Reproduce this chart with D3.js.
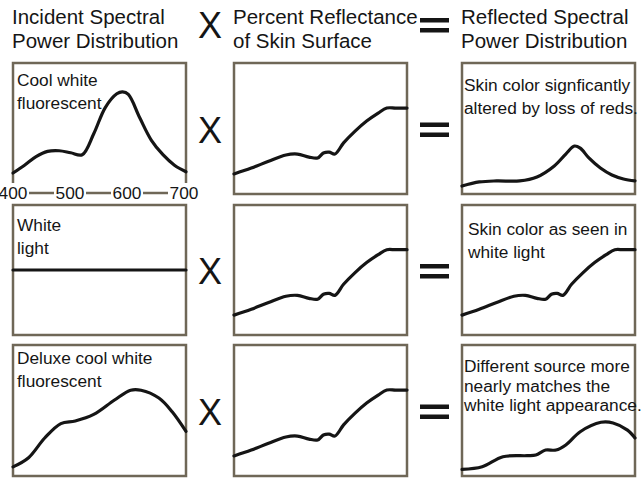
<!DOCTYPE html>
<html>
<head>
<meta charset="utf-8">
<script src="https://cdn.jsdelivr.net/npm/d3@7"></script>
<style>
body{margin:0;background:#fff;}
svg{display:block;font-family:"Liberation Sans",Arial,sans-serif;}
</style>
</head>
<body>
<svg width="641" height="486"></svg>
<script>
// column / row headers
var headers = [["Incident Spectral","Power Distribution"],["Percent Reflectance","of Skin Surface"],["Reflected Spectral","Power Distribution"]];
var axisTicks = [400,500,600,700];

// light sources
var coolNm  = [400,420,440,460,480,500,520,540,560,580,590,600,620,640,660,680,700];
var coolVal = [0.16,0.22,0.285,0.325,0.33,0.315,0.30,0.46,0.66,0.765,0.78,0.76,0.58,0.41,0.30,0.22,0.17];
var whiteNm  = [400,700];
var whiteVal = [0.5,0.5];
var deluxeNm  = [400,427,455,483,508,540,576,604,622,653,676,700];
var deluxeVal = [0.07,0.14,0.29,0.40,0.42,0.47,0.58,0.655,0.655,0.595,0.49,0.34];

// skin reflectance
var skinNm  = [400,430,460,490,510,530,545,555,565,575,590,610,630,650,665,680,700];
var skinVal = [0.153,0.198,0.25,0.298,0.305,0.282,0.275,0.313,0.32,0.305,0.39,0.48,0.557,0.618,0.656,0.656,0.656];

// reflected results
var coolOutNm  = [400,430,460,500,530,560,580,595,605,620,640,660,680,700];
var coolOutVal = [0.061,0.092,0.10,0.10,0.13,0.214,0.305,0.366,0.35,0.275,0.198,0.145,0.115,0.10];
var deluxeOutNm  = [400,435,471,513,528,545,563,580,605,641,662,687,700];
var deluxeOutVal = [0.05,0.07,0.147,0.155,0.16,0.198,0.198,0.237,0.338,0.41,0.405,0.35,0.29];

var sourceNotes = [["Cool white","fluorescent"],["White","light"],["Deluxe cool white","fluorescent"]];
var resultNotes = [["Skin color signficantly","altered by loss of reds."],["Skin color as seen in","white light"],["Different source more","nearly matches the","white light appearance."]];

var svg = d3.select('svg');
var colX = [13,234,462], panelW = 173;
var rows = [{top:63,bottom:194},{top:205,bottom:335},{top:345,bottom:476}];
var boxColor = '#6f6757', ink = '#151515';

var panels = [
	[[coolNm,coolVal],[skinNm,skinVal],[coolOutNm,coolOutVal]],
	[[whiteNm,whiteVal],[skinNm,skinVal],[skinNm,skinVal]],
	[[deluxeNm,deluxeVal],[skinNm,skinVal],[deluxeOutNm,deluxeOutVal]]
];
var noteBase = [[86,91],[231,235],[364,372]];

// headers
headers.forEach(function(h,i){
	var t = svg.append('text').attr('x',colX[i]-1).attr('y',24)
		.attr('font-size',20.5).attr('fill',ink);
	h.forEach(function(line,j){
		t.append('tspan').attr('x',colX[i]-1).attr('y',24+24*j).text(line);
	});
});

function drawX(cy){
	svg.append('text').attr('x',210).attr('y',cy+13).attr('text-anchor','middle')
		.attr('font-size',36).attr('fill',ink).text('X');
}
function drawEq(cy){
	svg.append('rect').attr('x',420).attr('y',cy-7).attr('width',29).attr('height',4.5).attr('fill',ink);
	svg.append('rect').attr('x',420).attr('y',cy+3).attr('width',29).attr('height',4.5).attr('fill',ink);
}
drawX(25); drawEq(25);

var line = d3.line().curve(d3.curveCatmullRom.alpha(0.5));

rows.forEach(function(r,ri){
	var mid = (r.top+r.bottom)/2;
	drawX(mid+1); drawEq(mid+1);
	colX.forEach(function(x0,ci){
		var g = svg.append('g');
		if(ri===0 && ci===0){
			g.append('path').attr('d','M'+x0+','+(r.bottom-11)+'V'+r.top+'H'+(x0+panelW)+'V'+(r.bottom-11))
				.attr('fill','none').attr('stroke',boxColor).attr('stroke-width',2.5);
		} else {
			g.append('rect').attr('x',x0).attr('y',r.top).attr('width',panelW).attr('height',r.bottom-r.top)
				.attr('fill','none').attr('stroke',boxColor).attr('stroke-width',2.5);
		}
		var xs = d3.scaleLinear().domain([400,700]).range([x0,x0+panelW]);
		var ys = d3.scaleLinear().domain([0,1]).range([r.bottom,r.top]);
		var d = panels[ri][ci];
		var pts = d[0].map(function(n,k){ return [xs(n),ys(d[1][k])]; });
		g.append('path').attr('d',line(pts)).attr('fill','none')
			.attr('stroke',ink).attr('stroke-width',3.2).attr('stroke-linejoin','round').attr('stroke-linecap','round');

		var notes = ci===0 ? sourceNotes[ri] : (ci===2 ? resultNotes[ri] : null);
		if(notes){
			var base = noteBase[ri][ci===0?0:1];
			var step = ri===2 && ci===2 ? 19.5 : 22.5;
			notes.forEach(function(s,k){
				g.append('text').attr('x',x0+(ci===0?4:2)+(ri===1&&ci===2?4:0)).attr('y',base+step*k)
					.attr('font-size',17.3).attr('fill',ink).text(s);
			});
		}
	});
});

// wavelength axis under first panel
var ax = d3.scaleLinear().domain([400,700]).range([13,184]);
var axg = svg.append('g');
axisTicks.forEach(function(t,i){
	axg.append('text').attr('x',ax(t)).attr('y',199).attr('text-anchor','middle')
		.attr('font-size',17.3).attr('fill',ink).text(t);
	if(i<axisTicks.length-1){
		var a = ax(t)+16, b = ax(axisTicks[i+1])-16;
		axg.append('line').attr('x1',a).attr('x2',b).attr('y1',193).attr('y2',193)
			.attr('stroke',boxColor).attr('stroke-width',2.5);
	}
});
</script>
</body>
</html>
